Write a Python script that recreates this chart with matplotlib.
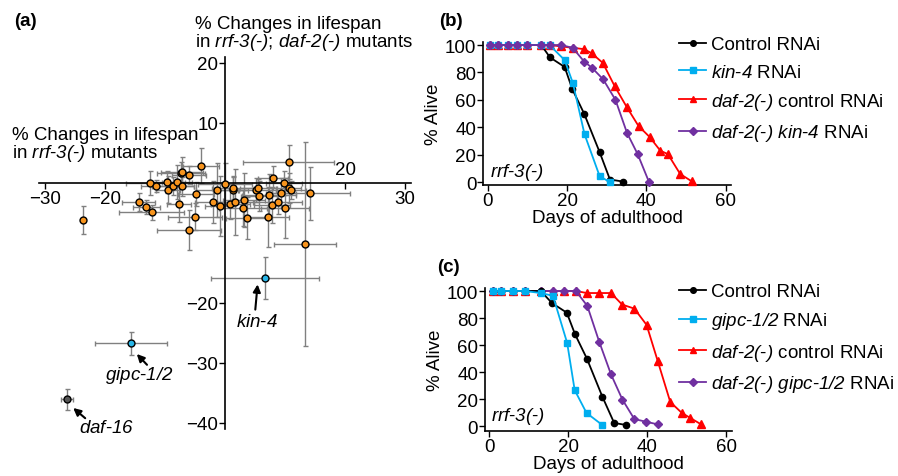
import matplotlib
matplotlib.use('Agg')
import matplotlib.pyplot as plt
import numpy as np

plt.rcParams['font.family'] = 'Liberation Sans'
plt.rcParams['mathtext.fontset'] = 'custom'
# math text is only used for the italic gene names, so make all of it italic
plt.rcParams['mathtext.rm'] = 'Liberation Sans:italic'
plt.rcParams['mathtext.it'] = 'Liberation Sans:italic'
plt.rcParams['axes.linewidth'] = 1.2

FS = 13.5

# ---- panel (a): % change in lifespan, rrf-3 (x) vs rrf-3; daf-2 (y)
sx = [-23.6, -14.4, -13.1, -12.2, -12.5, -11.5, -9.7, -9.45, -8.7, -8.0, -7.2, -7.3, -7.1, -6.0,
      -4.0, -7.6, -4.9, -5.0, -6.0, -1.3, 0.0, -2.0, -0.8, 0.9, 1.7, 1.3, 1.4, 3.2, 3.0, 3.7,
      5.1, 5.5, 5.7, 7.4, 8.05, 7.8, 8.9, 7.1, 9.3, 9.8, 10.6, 10.6, 11.05, 10.05, 14.1, 13.3]
sy = [-6.2, -3.2, -4.0, -4.9, 0.0, -0.45, 0.2, -1.1, -0.5, 0.2, -0.55, 1.7, 1.9, 1.3,
      2.9, -3.5, -1.9, -5.6, -7.8, -1.2, -0.1, -3.2, -3.8, -3.5, -3.2, -1.1, -0.8, -2.8, -4.1, -5.9,
      -1.2, -0.9, -2.1, -2.0, 0.9, -3.6, -3.2, -5.6, -1.6, 0.0, 3.5, -0.9, -1.2, -4.1, -1.7, -10.2]
sxerr = [0.3, 2.8, 2.2, 5.4, 4.0, 2.5, 3.0, 2.0, 3.5, 2.5, 2.0, 4.0, 3.5, 2.8,
         3.0, 2.0, 3.0, 4.5, 5.4, 3.5, 4.5, 3.0, 2.5, 3.2, 3.0, 2.5, 3.5, 3.5, 4.0, 3.5,
         2.8, 3.0, 3.0, 4.5, 2.5, 3.0, 4.0, 3.5, 2.5, 3.0, 7.6, 2.0, 2.5, 4.0, 6.8, 5.2]
syerr = [2.3, 1.5, 1.2, 1.3, 2.0, 1.0, 1.8, 2.2, 1.5, 2.8, 1.6, 1.8, 2.5, 1.5,
         2.9, 3.0, 2.0, 2.2, 3.3, 4.5, 3.5, 3.5, 5.0, 2.5, 5.5, 2.2, 1.8, 4.5, 3.0, 3.5,
         2.0, 1.6, 2.5, 3.5, 2.0, 3.0, 2.0, 5.0, 2.5, 2.0, 2.8, 2.5, 1.5, 5.0, 4.4, 17.0]

hits = ['kin-4', 'gipc-1/2', 'daf-16']
hx = [6.6, -15.6, -26.4]
hy = [-15.8, -26.7, -36.0]
hxerr = [9.0, 6.0, 1.0]
hyerr = [3.5, 1.9, 1.75]
hcolors = ['#29b6e8', '#29b6e8', '#555555']

# ---- panels (b), (c): survival curves
b_ctrl_d = [0.5, 2.5, 5, 7.5, 10, 13.5, 15.7, 19.4, 21.3, 24.3, 28.2, 30.8, 34.1]
b_ctrl = [100, 100, 100, 100, 100, 100, 91, 84, 68, 50, 22, 2, 0.5]
b_kin_d = [0.5, 2.5, 5, 7.5, 10, 13.5, 15.6, 19.4, 21.5, 24.4, 28.2, 30.8]
b_kin = [100, 100, 100, 100, 100, 100, 100, 89, 72, 35, 4.5, 0]
b_daf_d = [0.5, 2.5, 5, 7.5, 10, 13.5, 15.6, 18.5, 21.4, 24.3, 26.2, 29, 32, 35, 38, 40.8,
           43.5, 45.4, 48.5, 51.4]
b_daf = [100, 100, 100, 100, 100, 100, 100, 99, 98, 97, 94, 87, 70, 55, 41, 33,
         23, 20.5, 6, 0.7]
b_dafkin_d = [0.5, 2.5, 5, 7.5, 10, 13.5, 15.6, 18.5, 21.4, 24.3, 26.25, 29.1, 32.2, 35.1, 37.8, 40.6]
b_dafkin = [100, 100, 100, 100, 100, 100, 100, 100, 98, 88, 83.5, 75, 60, 36, 20.4, 0.5]

c_ctrl_d = [1, 3, 6, 9, 13, 15.9, 19.6, 21.7, 24.7, 28.6, 31.6, 34.7]
c_ctrl = [100, 100, 100, 100, 100, 91, 84, 68, 50, 22, 2.5, 1]
c_gipc_d = [1, 3, 6, 9, 13, 16.1, 19.7, 21.6, 24.6, 28.6]
c_gipc = [100, 100, 100, 100, 98.5, 96.5, 61.6, 26.8, 9.9, 1]
c_daf_d = [1, 3, 6, 9, 13, 16, 19, 21.9, 24.7, 27.8, 30.8, 33.6, 36.7, 39.8, 42.6, 45.8,
           48.7, 50.7, 53.6]
c_daf = [100, 100, 100, 100, 100, 100, 100, 100, 98.5, 98.5, 98.5, 90, 87, 75, 48.5, 18,
         10, 6.5, 1.5]
c_dafgipc_d = [1, 3, 6, 9, 13, 16, 19, 21.9, 24.8, 27.8, 30.8, 33.7, 36.7, 39.7, 42.6]
c_dafgipc = [100, 100, 100, 100, 100, 100, 100, 100, 89, 62.6, 38.4, 19.7, 5.4, 3.4, 1.5]


def it(s):
    # italic via mathtext, keeping hyphens as plain text
    out = []
    for p in s.split('-'):
        out.append('$%s$' % p.replace(' ', r'\ ') if p else '')
    return '-'.join(out)


W, H = 898, 477
fig = plt.figure(figsize=(W / 100, H / 100), dpi=100)

ax = fig.add_axes([39 / W, 47 / H, 372 / W, 372 / H])
ax.set_xlim(-31, 31)
ax.set_ylim(-41, 21)
for s in ['top', 'right']:
    ax.spines[s].set_visible(False)
ax.spines['left'].set_position(('data', 0))
ax.spines['bottom'].set_position(('data', 0))
ax.set_xticks([-30, -20, 20, 30])
ax.set_xticklabels(['\u221230', '\u221220', '', '30'])
ax.set_yticks([-40, -30, -20, 10, 20])
ax.set_yticklabels(['\u221240', '\u221230', '\u221220', '10', '20'])
ax.tick_params(labelsize=FS, length=4, width=1, pad=1)
ax.text(20, 0.9, '20', fontsize=FS, ha='center', va='bottom')

ax.errorbar(sx, sy, xerr=sxerr, yerr=syerr, fmt='none', ecolor='#808080',
            elinewidth=1, capsize=1.8, capthick=1, zorder=2)
ax.errorbar(hx, hy, xerr=hxerr, yerr=hyerr, fmt='none', ecolor='#808080',
            elinewidth=1, capsize=1.8, capthick=1, zorder=2)
ax.plot(sx, sy, 'o', ms=5, mfc='#f7941d', mec='black', mew=1, zorder=3, ls='none')
for i in range(len(hits)):
    ax.plot(hx[i], hy[i], 'o', ms=5, mfc=hcolors[i], mec='black', mew=1, zorder=3)

arrow = dict(arrowstyle='-|>', color='black', lw=1.5, mutation_scale=11, shrinkA=0, shrinkB=0)
ax.annotate('', xy=(5.43, -16.9), xytext=(5.05, -21.1), arrowprops=arrow)
ax.text(5.4, -23.1, it('kin-4'), fontsize=FS, ha='center', va='center')
ax.annotate('', xy=(-14.7, -28.5), xytext=(-13.0, -30.3), arrowprops=arrow)
ax.text(-14.3, -32.0, it('gipc-1/2'), fontsize=FS, ha='center', va='center')
ax.annotate('', xy=(-25.3, -37.5), xytext=(-23.3, -39.2), arrowprops=arrow)
ax.text(-19.8, -40.8, it('daf-16'), fontsize=FS, ha='center', va='center')

fig.text(195 / W, 1 - 16 / H, '% Changes in lifespan\nin ' + it('rrf-3(-)') + '; ' + it('daf-2(-)') + ' mutants',
         fontsize=FS, ha='left', va='top', linespacing=0.95)
fig.text(12 / W, 1 - 127 / H, '% Changes in lifespan\nin ' + it('rrf-3(-)') + ' mutants',
         fontsize=FS, ha='left', va='top', linespacing=0.95)

fig.text(25 / W, 1 - 22 / H, '(a)', fontsize=FS, fontweight='bold', ha='center', va='center')
fig.text(451 / W, 1 - 22 / H, '(b)', fontsize=FS, fontweight='bold', ha='center', va='center')
fig.text(448 / W, 1 - 268 / H, '(c)', fontsize=FS, fontweight='bold', ha='center', va='center')

BLACK, CYAN, RED, PURPLE = 'black', '#00aeef', '#ff0000', '#7030a0'


def survival(rect, ylo, series, labels, order, leg_xy):
    a = fig.add_axes(rect)
    a.set_xlim(-1.1, 61.4)
    a.set_ylim(ylo, 102)
    for s in ['top', 'right']:
        a.spines[s].set_visible(False)
    a.set_xticks([0, 20, 40, 60])
    a.set_yticks([0, 20, 40, 60, 80, 100])
    a.tick_params(labelsize=FS, length=4, width=1, pad=1)
    a.set_xlabel('Days of adulthood', fontsize=FS, labelpad=0)
    a.set_ylabel('% Alive', fontsize=FS, labelpad=2)
    styles = [(BLACK, 'o', 4.5), (CYAN, 's', 4.5), (RED, '^', 5.5), (PURPLE, 'D', 4)]
    handles = []
    for k, (d, v) in enumerate(series):
        col, mk, ms = styles[k]
        h, = a.plot(d, v, color=col, marker=mk, ms=ms, lw=1.3, mec=col, zorder=order[k],
                    clip_on=False)
        handles.append(h)
    a.text(0.5, 8, it('rrf-3(-)'), fontsize=FS, ha='left', va='center')
    a.legend(handles, labels, loc='upper left', bbox_to_anchor=leg_xy,
             bbox_transform=fig.transFigure, frameon=False, fontsize=FS,
             borderaxespad=0, borderpad=0, handlelength=1.45, handletextpad=0.25,
             labelspacing=0.55, markerscale=0.9)
    return a


survival([483.3 / W, 1 - 186 / H, 248.1 / W, 142.7 / H], -2,
         [(b_ctrl_d, b_ctrl), (b_kin_d, b_kin), (b_daf_d, b_daf), (b_dafkin_d, b_dafkin)],
         ['Control RNAi', it('kin-4') + ' RNAi', it('daf-2(-)') + ' control RNAi',
          it('daf-2(-) kin-4') + ' RNAi'],
         [4, 5, 3, 6], (679 / W, 1 - 37 / H))

survival([485 / W, 1 - 431.7 / H, 246.9 / W, 142.4 / H], -3.2,
         [(c_ctrl_d, c_ctrl), (c_gipc_d, c_gipc), (c_daf_d, c_daf), (c_dafgipc_d, c_dafgipc)],
         ['Control RNAi', it('gipc-1/2') + ' RNAi', it('daf-2(-)') + ' control RNAi',
          it('daf-2(-) gipc-1/2') + ' RNAi'],
         [5, 6, 3, 4], (679 / W, 1 - 284 / H))

fig.savefig('out.png', dpi=100)
